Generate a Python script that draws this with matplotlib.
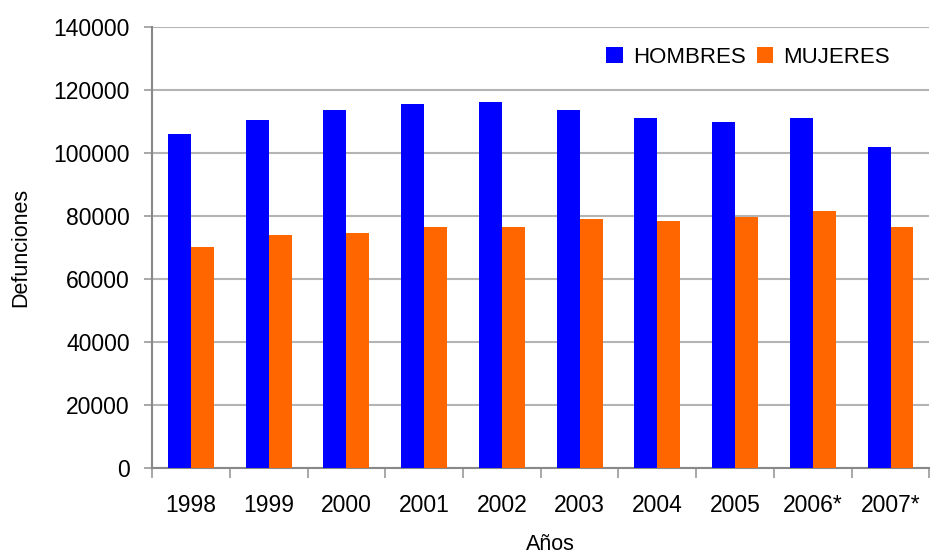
import numpy as np
import matplotlib.pyplot as plt

plt.rcParams['font.family'] = ['Liberation Sans', 'DejaVu Sans']

# Data
years = ['1998', '1999', '2000', '2001', '2002', '2003', '2004', '2005', '2006*', '2007*']
hombres = [106000, 110500, 113700, 115600, 116200, 113700, 111100, 109800, 111100, 102000]
mujeres = [70000, 73800, 74500, 76400, 76400, 79000, 78300, 79600, 81500, 76400]

fig = plt.figure(figsize=(9.31, 5.57), dpi=100)
ax = fig.add_axes([0.1633, 0.160, 0.835, 0.7915])

x = np.arange(len(years))
w = 0.295
ax.bar(x - w / 2, hombres, w, color='#0000FF', label='HOMBRES', zorder=3)
ax.bar(x + w / 2, mujeres, w, color='#FF6600', label='MUJERES', zorder=3)

ax.set_xlim(-0.5, len(years) - 0.5)
ax.set_ylim(0, 140000)
ax.set_yticks(np.arange(0, 140001, 20000))
ax.yaxis.grid(True, color='#b4b4b4', linewidth=1.5, zorder=0)

# category ticks between groups, labels centred
ax.set_xticks(np.arange(-0.5, len(years), 1.0))
ax.set_xticklabels([])
ax.set_xticks(x, minor=True)
ax.set_xticklabels(years, minor=True, fontsize=16.5)
ax.tick_params(axis='x', which='minor', length=0, pad=19)
ax.tick_params(axis='x', which='major', length=7, color='#999999', width=1.2)
ax.tick_params(axis='y', length=6, color='#999999', width=1.2, labelsize=16.5, pad=10)

for s in ['top', 'right']:
    ax.spines[s].set_visible(False)
for s in ['left', 'bottom']:
    ax.spines[s].set_color('#888888')
    ax.spines[s].set_linewidth(1.5)

ax.set_ylabel('Defunciones', fontsize=15.5, labelpad=16)
fig.text(0.591, 0.003, 'Años', fontsize=15.5, ha='center', va='bottom')

ax.legend(loc='upper right', bbox_to_anchor=(0.975, 1.0), ncol=2, frameon=False,
          fontsize=16, handlelength=0.75, handleheight=0.75, handletextpad=0.45,
          columnspacing=0.5)

fig.savefig('out.png', dpi=100)
